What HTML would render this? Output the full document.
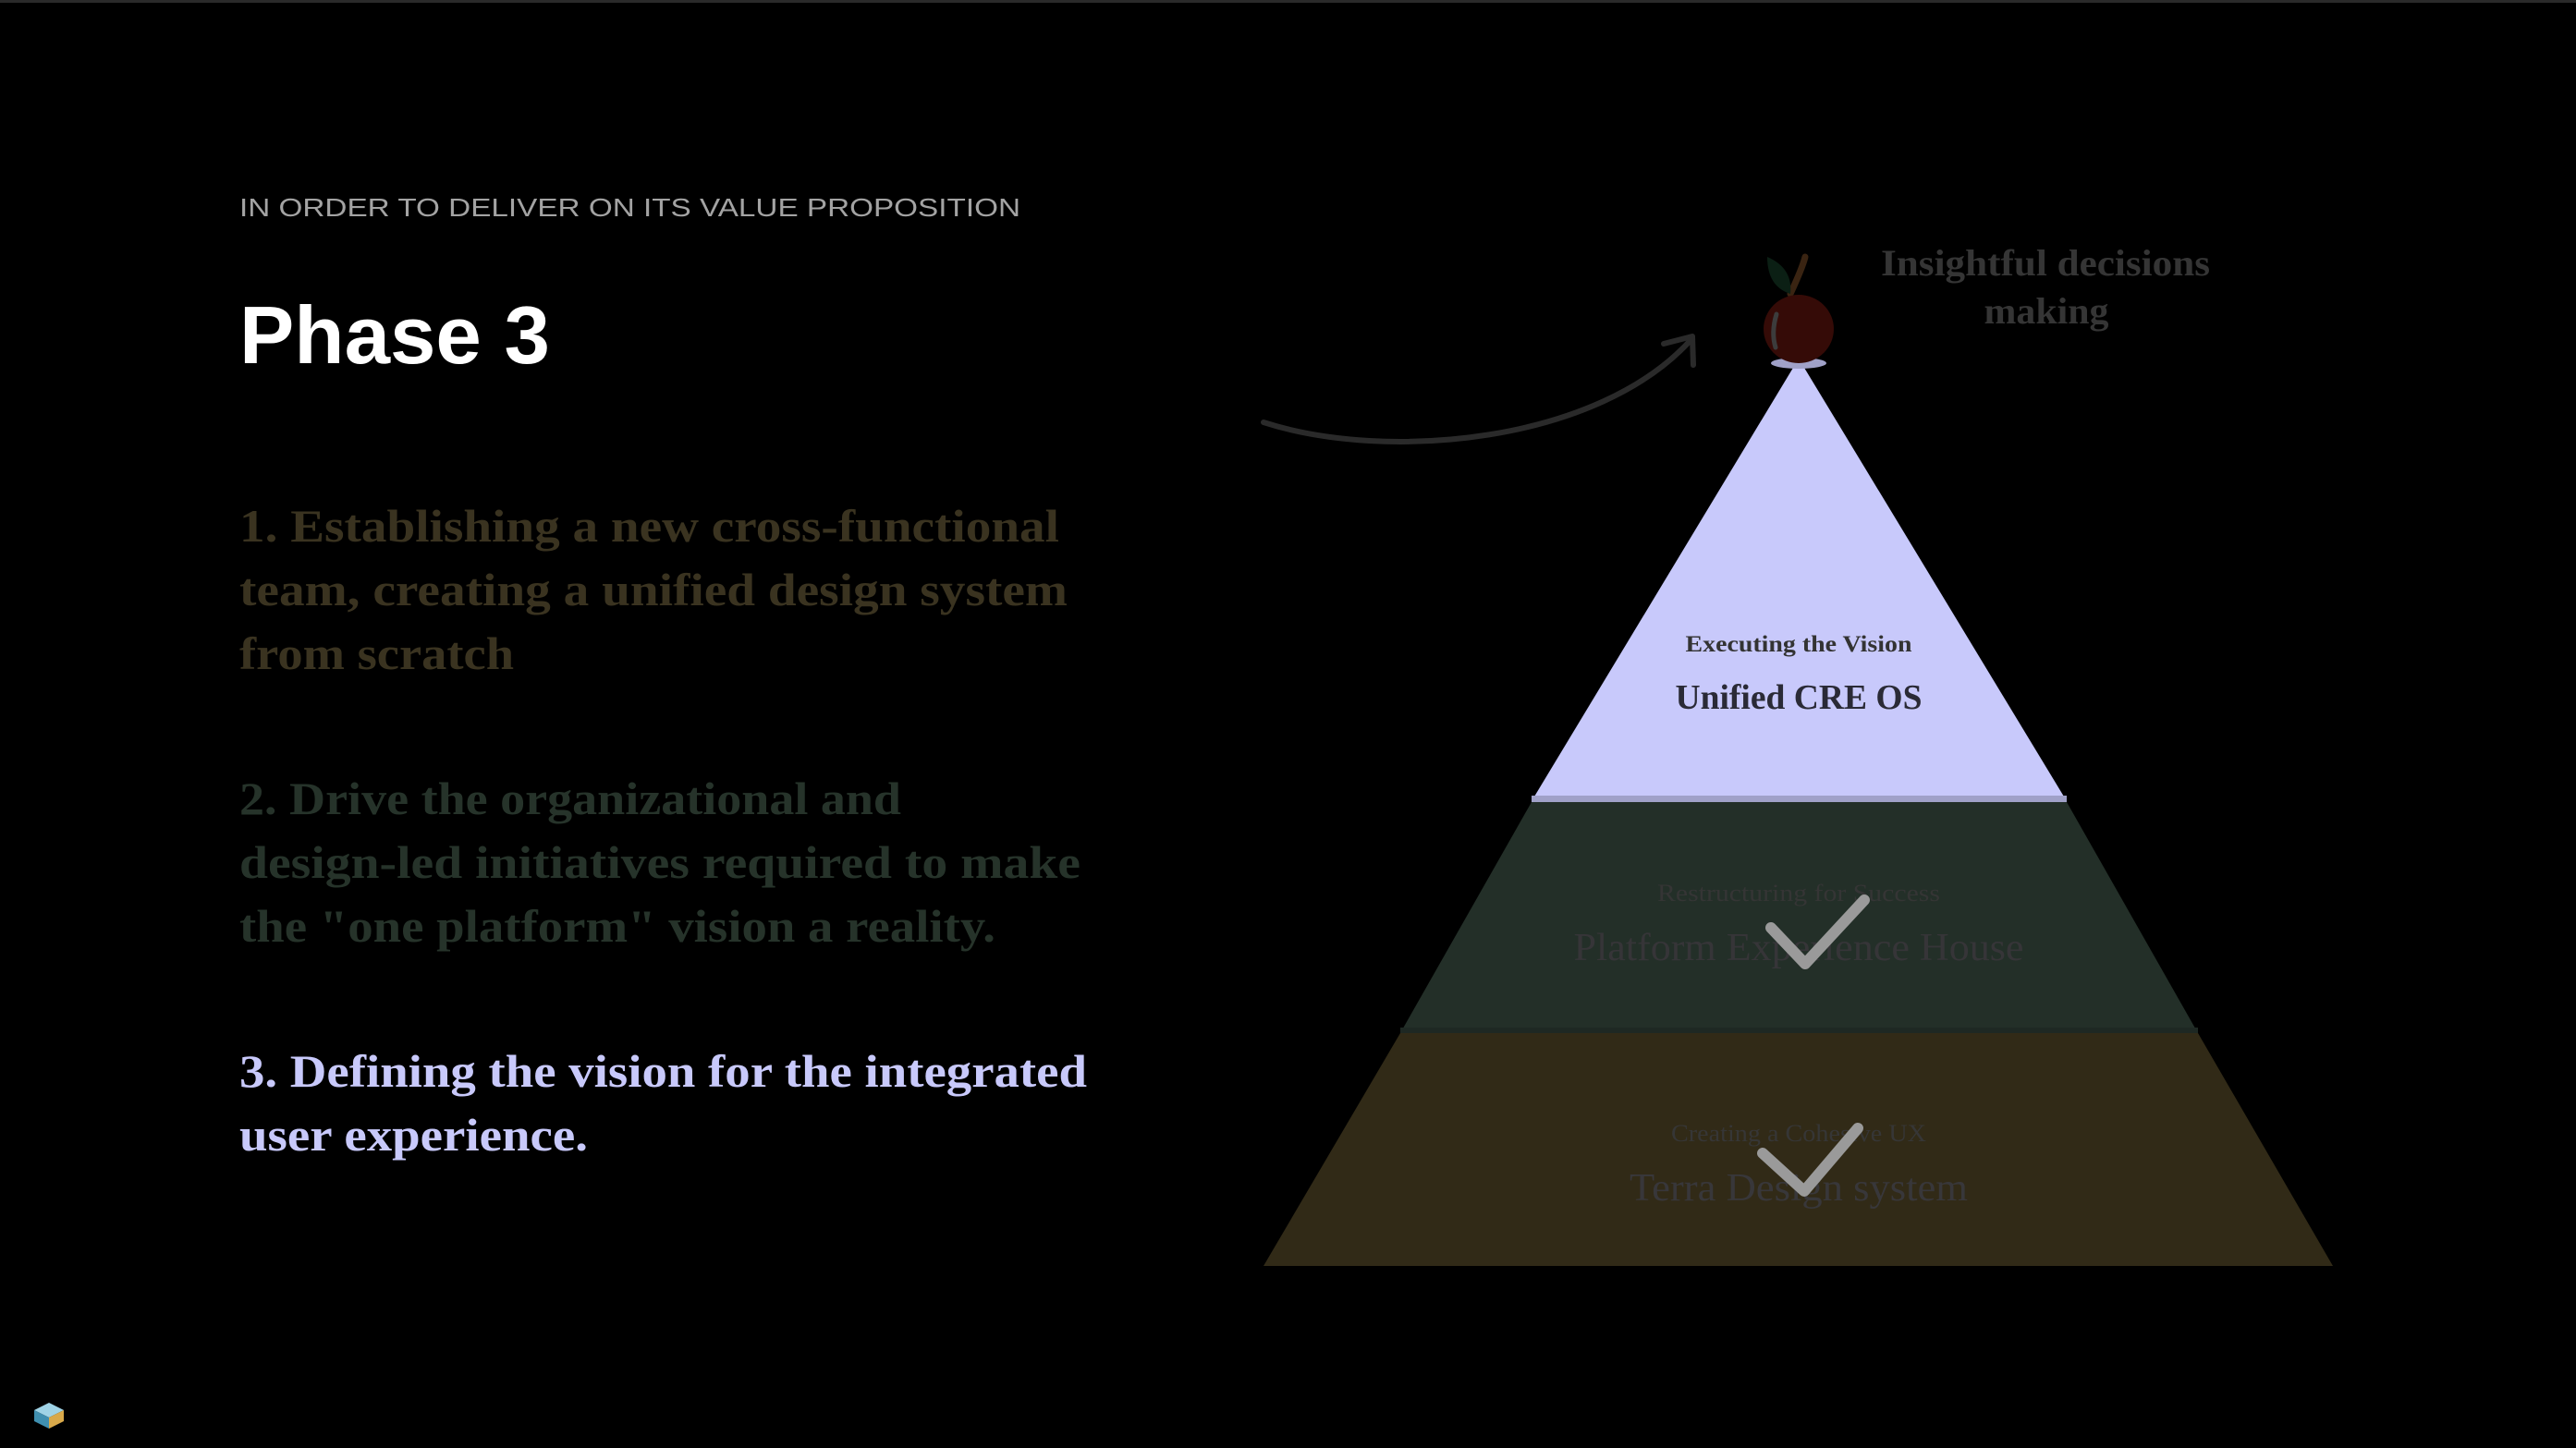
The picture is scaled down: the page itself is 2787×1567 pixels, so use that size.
<!DOCTYPE html>
<html><head><meta charset="utf-8"><style>
html,body{margin:0;padding:0;background:#000;width:2787px;height:1567px;overflow:hidden}
svg{display:block}
</style></head><body>
<svg width="2787" height="1567" viewBox="0 0 2787 1567" xmlns="http://www.w3.org/2000/svg">
<rect width="2787" height="1567" fill="#000"/>
<rect width="2787" height="3" fill="#2a2a2a"/>
<g font-family="Liberation Sans, sans-serif">
<text x="259" y="234" font-size="28" fill="#a3a3a3" textLength="845" lengthAdjust="spacingAndGlyphs">IN ORDER TO DELIVER ON ITS VALUE PROPOSITION</text>
<text x="259" y="393" font-size="88" font-weight="bold" fill="#fff" textLength="336" lengthAdjust="spacingAndGlyphs">Phase 3</text>
</g>
<g font-family="Liberation Serif, serif" font-size="50" font-weight="bold">
<g fill="#3a3320">
<text x="259" y="586" textLength="887" lengthAdjust="spacingAndGlyphs">1. Establishing a new cross-functional</text>
<text x="259" y="655" textLength="896" lengthAdjust="spacingAndGlyphs">team, creating a unified design system</text>
<text x="259" y="724" textLength="297" lengthAdjust="spacingAndGlyphs">from scratch</text>
</g>
<g fill="#26332a">
<text x="259" y="881" textLength="716" lengthAdjust="spacingAndGlyphs">2. Drive the organizational and</text>
<text x="259" y="950" textLength="910" lengthAdjust="spacingAndGlyphs">design-led initiatives required to make</text>
<text x="259" y="1019" textLength="818" lengthAdjust="spacingAndGlyphs">the "one platform" vision a reality.</text>
</g>
<g fill="#c8c9fb">
<text x="259" y="1176" textLength="917" lengthAdjust="spacingAndGlyphs">3. Defining the vision for the integrated</text>
<text x="259" y="1245" textLength="377" lengthAdjust="spacingAndGlyphs">user experience.</text>
</g>
</g>
<polygon points="1946,388 2236,867 1657,867" fill="#c8c9fb"/>
<rect x="1657" y="861" width="579" height="7" fill="#a0a1c8"/>
<polygon points="1657,868 2236,868 2378,1118 1515,1118" fill="#232f28"/>
<rect x="1515" y="1112" width="863" height="6" fill="#1e2823"/>
<polygon points="1515,1118 2378,1118 2524,1370 1367,1370" fill="#312a17"/>
<g font-family="Liberation Serif, serif" text-anchor="middle">
<text x="1946" y="705" font-size="25" font-weight="bold" fill="#333" textLength="245" lengthAdjust="spacingAndGlyphs">Executing the Vision</text>
<text x="1946" y="767" font-size="38" font-weight="bold" fill="#2a2a36" textLength="267" lengthAdjust="spacingAndGlyphs">Unified CRE OS</text>
<text x="1946" y="975" font-size="26" fill="#353535" textLength="306" lengthAdjust="spacingAndGlyphs">Restructuring for Success</text>
<text x="1946" y="1039" font-size="42" fill="#363538" textLength="487" lengthAdjust="spacingAndGlyphs">Platform Experience House</text>
<text x="1946" y="1235" font-size="26" fill="#363636" textLength="276" lengthAdjust="spacingAndGlyphs">Creating a Cohesive UX</text>
<text x="1946" y="1299" font-size="42" fill="#38373a" textLength="366" lengthAdjust="spacingAndGlyphs">Terra Design system</text>
<text x="2213" y="298" font-size="40" font-weight="bold" fill="#353535" textLength="356" lengthAdjust="spacingAndGlyphs">Insightful decisions</text>
<text x="2214" y="350" font-size="40" font-weight="bold" fill="#353535" textLength="135" lengthAdjust="spacingAndGlyphs">making</text>
</g>
<g stroke="#9a9a9a" stroke-width="12" fill="none" stroke-linecap="round" stroke-linejoin="round">
<polyline points="1916,1004 1953,1043 2017,974"/>
<polyline points="1907,1248 1952,1289 2010,1221"/>
</g>
<path d="M1367,457 C1500,500 1730,480 1831,366" stroke="#2a2a2a" stroke-width="6" fill="none" stroke-linecap="round"/>
<polyline points="1800,372 1831,364 1832,395" stroke="#2a2a2a" stroke-width="6" fill="none" stroke-linecap="round" stroke-linejoin="round"/>
<ellipse cx="1946" cy="393" rx="30" ry="6" fill="#a0a1c8"/>
<path d="M1937,318 Q1950,290 1953,278" stroke="#3a2412" stroke-width="7" fill="none" stroke-linecap="round"/>
<path d="M1912,278 Q1940,290 1937,318 Q1912,310 1912,278 Z" fill="#0b1f14"/>
<ellipse cx="1946" cy="356" rx="38" ry="37" fill="#350b07"/>
<path d="M1922,340 Q1916,360 1921,376" stroke="#3c3c3c" stroke-width="5" fill="none" stroke-linecap="round"/>
<g transform="translate(53,1532)">
<polygon points="-16,-6 0,-14 16,-6 0,2" fill="#9fd3e6"/>
<polygon points="-16,-6 0,2 0,14 -16,6" fill="#3f8fb0"/>
<polygon points="16,-6 0,2 0,14 16,6" fill="#d9a94a"/>
</g>
</svg>
</body></html>
